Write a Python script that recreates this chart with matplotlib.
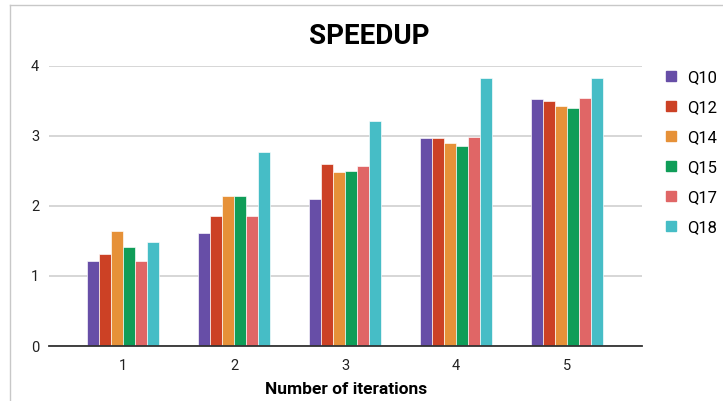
import matplotlib
matplotlib.use("Agg")
import matplotlib.pyplot as plt
import numpy as np
from matplotlib.lines import Line2D

plt.rcParams['font.family'] = ['Roboto', 'DejaVu Sans']

iterations = ["1", "2", "3", "4", "5"]
series_names = ["Q10", "Q12", "Q14", "Q15", "Q17", "Q18"]
q10 = [1.21, 1.61, 2.10, 2.97, 3.53]
q12 = [1.32, 1.85, 2.60, 2.97, 3.50]
q14 = [1.64, 2.14, 2.49, 2.89, 3.42]
q15 = [1.41, 2.14, 2.50, 2.85, 3.39]
q17 = [1.21, 1.86, 2.57, 2.98, 3.54]
q18 = [1.49, 2.77, 3.21, 3.83, 3.82]
colors = ["#674ea7", "#cc4125", "#e69138", "#0f9d58", "#e06666", "#46bdc6"]

series = [q10, q12, q14, q15, q17, q18]

W, H = 723, 401
fig = plt.figure(figsize=(W / 100, H / 100), dpi=100)
ax = fig.add_axes([49 / W, (H - 346) / H, (642 - 49) / W, (346 - 65.7) / H])

x = np.arange(1, len(iterations) + 1)
bw = 0.107
n = len(series)
for i, (vals, col, name) in enumerate(zip(series, colors, series_names)):
    offs = (i - (n - 1) / 2) * bw
    ax.bar(x + offs, vals, width=bw, color=col, edgecolor="white",
           linewidth=0.45, label=name, zorder=3)

ax.set_xlim(0.333, 5.676)
ax.set_ylim(0, 4)
ax.set_yticks([0, 1, 2, 3, 4])
ax.set_xticks(x)
ax.set_xticklabels(iterations)
ax.grid(axis="y", color="#cccccc", linewidth=1.1, zorder=0)
ax.set_axisbelow(True)
for s in ["left", "right", "top"]:
    ax.spines[s].set_visible(False)
ax.spines["bottom"].set_color("#333333")
ax.spines["bottom"].set_linewidth(1.3)
ax.spines["bottom"].set_zorder(4)
ax.tick_params(axis="both", length=0, labelsize=10.5, colors="#222222")
ax.tick_params(axis="y", pad=7)
ax.tick_params(axis="x", pad=9)

fig.text(369 / W, 1 - 37 / H, "SPEEDUP", ha="center", va="center",
         fontsize=20, fontweight="bold", color="#000000")
fig.text(346 / W, 1 - 390 / H, "Number of iterations", ha="center",
         va="center", fontsize=12.5, fontweight="bold", color="#000000")

handles = [Line2D([], [], marker="s", linestyle="none", markersize=7.5,
                  markerfacecolor=c, markeredgecolor=c) for c in colors]
fig.legend(handles, series_names, loc="upper left",
           bbox_to_anchor=(655 / W, 1 - 62 / H), frameon=False,
           fontsize=12, handlelength=0.9, handletextpad=0.5,
           labelspacing=0.9, borderpad=0)

# Thin frame around the chart area
fig.add_artist(Line2D([10 / W, 1], [1 - 5 / H, 1 - 5 / H],
                      color="#c8c8c8", linewidth=1.0))
fig.add_artist(Line2D([10 / W, 10 / W], [0, 1 - 5 / H],
                      color="#c8c8c8", linewidth=1.0))

fig.savefig("out.png", dpi=100)
